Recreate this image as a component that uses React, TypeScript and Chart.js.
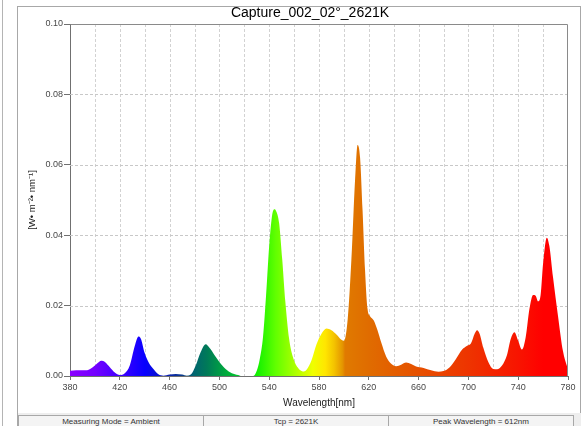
import { useEffect, useRef } from "react";
import { Chart, registerables } from "chart.js";

Chart.register(...registerables);

const TITLE = "Capture_002_02°_2621K";
const X_TITLE = "Wavelength[nm]";
const Y_TITLE = "[W• m⁻²• nm⁻¹]";
const FOOTER_CELLS = ["Measuring Mode = Ambient", "Tcp = 2621K", "Peak Wavelength = 612nm"];

const X_MIN = 380;
const X_MAX = 780;
const Y_MIN = 0;
const Y_MAX = 0.1;
const X_TICK_STEP = 40;
const Y_TICK_STEP = 0.02;
const X_GRID_NM = [400, 420, 440, 460, 480, 500, 520, 540, 560, 580, 600, 620, 640, 660, 680, 700, 720, 740, 760];
const Y_GRID = [0.02, 0.04, 0.06, 0.08];

// spectrum samples
const wavelengths = [
  380, 385, 390, 395, 398, 402, 405, 408, 412, 416, 420, 424, 428, 432, 435, 437, 440, 443, 447, 451,
  455, 460, 465, 470, 474, 477, 481, 485, 489, 492, 496, 500, 505, 510, 515, 518, 527, 530, 532.5, 535,
  537.5, 540, 542.5, 544.5, 546, 548, 550.5, 553, 556, 559, 563, 567, 570, 574, 578, 582, 586, 590, 594, 598,
  600, 603, 606, 609, 611, 613, 615, 617, 619, 621, 624, 627, 630, 634, 638, 642, 646, 650, 654, 658,
  664, 670, 676, 680, 685, 690, 695, 699, 702, 705, 707, 709, 712, 716, 720, 723, 727, 731, 734, 737,
  740, 743, 746, 749, 752, 754, 756, 758, 760, 763, 765, 768, 772, 776, 779, 780,
];
const irradiance = [
  0.0015, 0.0016, 0.0016, 0.0018, 0.0024, 0.0036, 0.0043, 0.004, 0.0025, 0.001, 0.0003, 0.0008, 0.003, 0.0085, 0.0112, 0.0105, 0.0065, 0.004, 0.002, 0.0005,
  0.0001, 0.0004, 0.0006, 0.0004, 0.0001, 0.0004, 0.003, 0.0068, 0.009, 0.008, 0.006, 0.004, 0.002, 0.0008, 0.0003, 0.0, 0.0, 0.0015, 0.005, 0.011,
  0.023, 0.037, 0.046, 0.0474, 0.0465, 0.0434, 0.033, 0.021, 0.0106, 0.0055, 0.0024, 0.0013, 0.0018, 0.0045, 0.009, 0.012, 0.0135, 0.013, 0.0118, 0.0103,
  0.01, 0.016, 0.033, 0.056, 0.0656, 0.062, 0.047, 0.03, 0.019, 0.017, 0.0158, 0.013, 0.0095, 0.0055, 0.0035, 0.0028, 0.0032, 0.0038, 0.0034, 0.0027,
  0.0023, 0.0016, 0.0012, 0.0014, 0.0025, 0.0048, 0.0075, 0.0086, 0.0092, 0.012, 0.013, 0.012, 0.008, 0.004, 0.002, 0.0019, 0.003, 0.006, 0.0105, 0.0124,
  0.01, 0.0075, 0.011, 0.019, 0.023, 0.0228, 0.0212, 0.023, 0.032, 0.0393, 0.037, 0.028, 0.017, 0.007, 0.003, 0.002,
];

// spectral colour stops for the fill
const GRADIENT_NM = [380, 400, 420, 440, 455, 470, 480, 490, 500, 515, 530, 545, 560, 575, 585, 592, 599, 601, 620, 660, 700, 740, 760, 780];
const GRADIENT_COLORS = [
  "#8a00ff", "#7400ff", "#4000ff", "#0800ff", "#0818c0", "#0a3a8a", "#00666e", "#007a58", "#009a46", "#00c82c",
  "#10f000", "#60ff00", "#a8ff00", "#f0ff00", "#ffe600", "#f4c400", "#e49400", "#e07a00", "#e06c00", "#e65000",
  "#ee3400", "#f81400", "#ff0000", "#ff0000",
];

const FONT = "'Liberation Sans', Arial, sans-serif";

const gridAndFrame = {
  id: "gridAndFrame",
  beforeDatasetsDraw(chart: any) {
    const { ctx, chartArea: a, scales } = chart;
    const x = scales.x;
    const y = scales.y;
    ctx.save();
    ctx.lineWidth = 1;
    ctx.setLineDash([3, 2]);
    ctx.strokeStyle = "#d2d2d2";
    for (const v of X_GRID_NM) {
      const px = Math.round(x.getPixelForValue(v)) + 0.5;
      ctx.beginPath();
      ctx.moveTo(px, a.top);
      ctx.lineTo(px, a.bottom);
      ctx.stroke();
    }
    ctx.strokeStyle = "#c8c8c8";
    for (const v of Y_GRID) {
      const py = Math.round(y.getPixelForValue(v)) + 0.5;
      ctx.beginPath();
      ctx.moveTo(a.left, py);
      ctx.lineTo(a.right, py);
      ctx.stroke();
    }
    ctx.restore();
  },
  afterDatasetsDraw(chart: any) {
    const { ctx, chartArea: a } = chart;
    ctx.save();
    ctx.strokeStyle = "#8a8a8a";
    ctx.lineWidth = 1;
    ctx.beginPath();
    ctx.moveTo(Math.round(a.left) + 0.5, Math.round(a.top) + 0.5);
    ctx.lineTo(Math.round(a.right) - 0.5, Math.round(a.top) + 0.5);
    ctx.lineTo(Math.round(a.right) - 0.5, Math.round(a.bottom));
    ctx.stroke();
    ctx.restore();
  },
  afterDraw(chart: any) {
    const { ctx } = chart;
    ctx.save();
    ctx.font = `14px ${FONT}`;
    ctx.fillStyle = "#000";
    ctx.textAlign = "center";
    ctx.textBaseline = "middle";
    ctx.fillText(TITLE, 310, 13);
    ctx.restore();
  },
};

export default function App() {
  const canvasRef = useRef<HTMLCanvasElement | null>(null);

  useEffect(() => {
    const canvas = canvasRef.current;
    if (!canvas) return;
    const points = wavelengths.map((w, i) => ({ x: w, y: irradiance[i] }));
    const chart = new Chart(canvas, {
      type: "line",
      data: {
        datasets: [
          {
            data: points,
            fill: "origin",
            borderWidth: 0,
            pointRadius: 0,
            cubicInterpolationMode: "monotone",
            borderColor: "rgba(0,0,0,0)",
            backgroundColor: (c: any) => {
              const ch = c.chart;
              if (!ch.chartArea || !ch.scales.x) return GRADIENT_COLORS[0];
              const xs = ch.scales.x;
              const g = ch.ctx.createLinearGradient(xs.getPixelForValue(X_MIN), 0, xs.getPixelForValue(X_MAX), 0);
              GRADIENT_NM.forEach((nm, i) => g.addColorStop((nm - X_MIN) / (X_MAX - X_MIN), GRADIENT_COLORS[i]));
              return g;
            },
          },
        ],
      },
      options: {
        responsive: false,
        animation: false,
        layout: { padding: { left: 17, right: 20, top: 24, bottom: 13 } },
        plugins: { legend: { display: false }, tooltip: { enabled: false }, title: { display: false } },
        font: { family: FONT },
        scales: {
          x: {
            type: "linear",
            min: X_MIN,
            max: X_MAX,
            afterFit: (s: any) => {
              s.height = 37;
            },
            ticks: {
              stepSize: X_TICK_STEP,
              autoSkip: false,
              maxRotation: 0,
              padding: 2,
              color: "#484848",
              font: { size: 9, family: FONT },
            },
            grid: { drawOnChartArea: false, tickLength: 4, tickColor: "#707070" },
            border: { color: "#707070" },
            title: {
              display: true,
              text: X_TITLE,
              color: "#202020",
              font: { size: 10, family: FONT },
              padding: { top: 0, bottom: 4 },
            },
          },
          y: {
            type: "linear",
            min: Y_MIN,
            max: Y_MAX,
            afterFit: (s: any) => {
              s.width = 53;
            },
            ticks: {
              stepSize: Y_TICK_STEP,
              padding: 1,
              color: "#484848",
              font: { size: 9, family: FONT },
              callback: (v: any) => Number(v).toFixed(2),
            },
            grid: { drawOnChartArea: false, tickLength: 6, tickColor: "#707070" },
            border: { color: "#707070" },
            title: {
              display: true,
              text: Y_TITLE,
              color: "#202020",
              font: { size: 9.5, family: FONT },
              padding: { top: 10, bottom: 0 },
            },
          },
        },
      } as any,
      plugins: [gridAndFrame],
    });
    return () => chart.destroy();
  }, []);

  return (
    <div style={{ position: "fixed", left: 0, top: 0, width: 588, height: 426, background: "#fff", overflow: "hidden" }}>
      <div style={{ position: "absolute", left: 2, top: 0, width: 1, height: 426, background: "#b4b4b4" }} />
      <div
        style={{
          position: "absolute",
          left: 17,
          top: 6,
          width: 564,
          height: 440,
          border: "1px solid #a8a8a8",
          boxSizing: "border-box",
        }}
      />
      <canvas ref={canvasRef} width={588} height={426} style={{ position: "absolute", left: 0, top: 0 }} />
      <div style={{ position: "absolute", left: 18, top: 413, width: 563, height: 13, background: "#eeeeee" }} />
      {FOOTER_CELLS.map((t, i) => (
        <div
          key={t}
          style={{
            position: "absolute",
            left: 18 + i * 185,
            top: 415,
            width: 186,
            height: 14,
            boxSizing: "border-box",
            border: "1px solid #a8a8a8",
            background: "#f4f4f4",
            font: `8px ${FONT}`,
            color: "#333",
            textAlign: "center",
            lineHeight: "12px",
            whiteSpace: "nowrap",
          }}
        >
          {t}
        </div>
      ))}
    </div>
  );
}
